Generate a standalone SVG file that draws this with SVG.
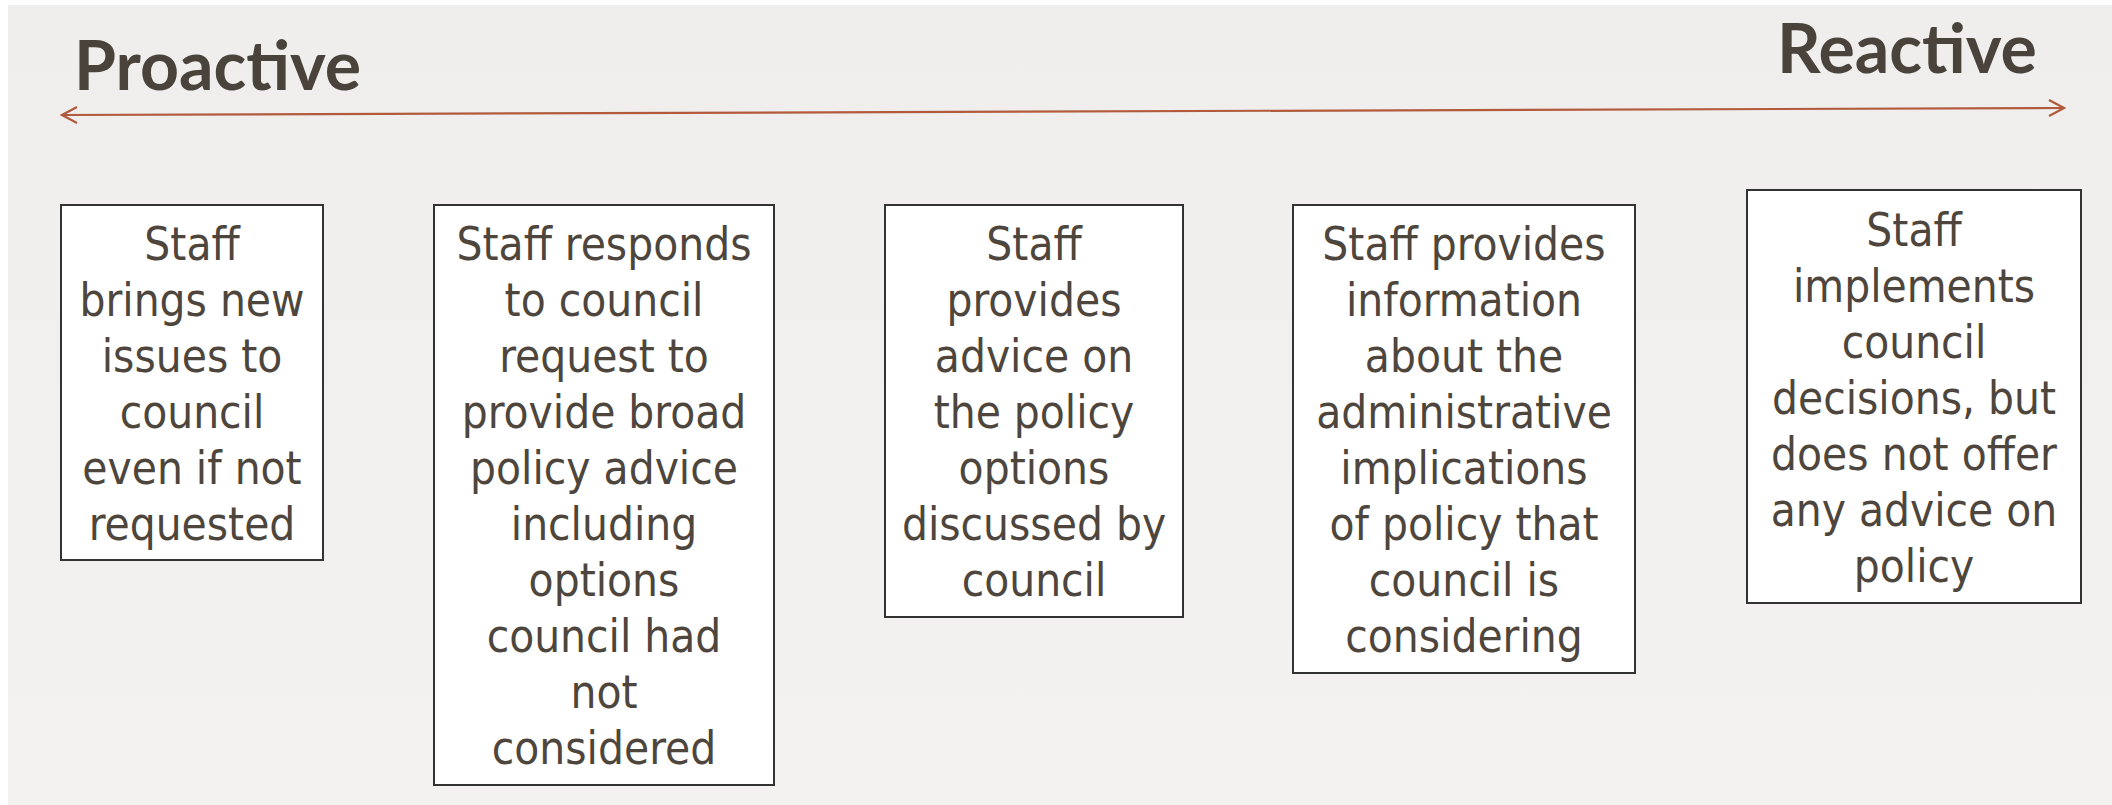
<svg xmlns="http://www.w3.org/2000/svg" width="2112" height="805" viewBox="0 0 2112 805">
  <defs>
    <style>
      .title { font-family: "Lato", "Open Sans", sans-serif; font-weight: 700; font-size: 68px; fill: #4a433b; }
      .box rect { fill: #ffffff; stroke: #333333; stroke-width: 2; }
      .box text { font-family: "DejaVu Sans Condensed", "DejaVu Sans", sans-serif; font-stretch: condensed; font-size: 45.5px; fill: #4e463d; text-anchor: middle; }
      .axis { stroke: #b25a3c; stroke-width: 2.2; fill: none; }
    </style>
    <marker id="openArrow" viewBox="0 0 20 20" refX="18" refY="10" markerWidth="20" markerHeight="20" markerUnits="userSpaceOnUse" orient="auto-start-reverse">
      <path d="M3 2 L18 10 L3 18" fill="none" stroke="#b25a3c" stroke-width="2.2"/>
    </marker>
    <linearGradient id="bg" x1="0" y1="0" x2="0" y2="1">
      <stop offset="0" stop-color="#efeeec"/>
      <stop offset="1" stop-color="#f3f2f0"/>
    </linearGradient>
  </defs>

  <rect x="0" y="0" width="2112" height="805" fill="#ffffff"/>
  <rect x="8" y="5" width="2104" height="800" fill="url(#bg)"/>

  <g id="titles">
    <text class="title" x="74" y="90">Proactive</text>
    <text class="title" x="1777" y="73">Reactive</text>
  </g>

  <g id="connectors">
    <line class="axis" x1="62" y1="115" x2="2064" y2="108" marker-start="url(#openArrow)" marker-end="url(#openArrow)"/>
  </g>

  <g id="node1" class="box">
    <rect x="61" y="205" width="262" height="355"/>
    <text x="192" y="260">Staff</text>
    <text x="192" y="316">brings new</text>
    <text x="192" y="372">issues to</text>
    <text x="192" y="428">council</text>
    <text x="192" y="484">even if not</text>
    <text x="192" y="540">requested</text>
  </g>

  <g id="node2" class="box">
    <rect x="434" y="205" width="340" height="580"/>
    <text x="604" y="260">Staff responds</text>
    <text x="604" y="316">to council</text>
    <text x="604" y="372">request to</text>
    <text x="604" y="428">provide broad</text>
    <text x="604" y="484">policy advice</text>
    <text x="604" y="540">including</text>
    <text x="604" y="596">options</text>
    <text x="604" y="652">council had</text>
    <text x="604" y="708">not</text>
    <text x="604" y="764">considered</text>
  </g>

  <g id="node3" class="box">
    <rect x="885" y="205" width="298" height="412"/>
    <text x="1034" y="260">Staff</text>
    <text x="1034" y="316">provides</text>
    <text x="1034" y="372">advice on</text>
    <text x="1034" y="428">the policy</text>
    <text x="1034" y="484">options</text>
    <text x="1034" y="540">discussed by</text>
    <text x="1034" y="596">council</text>
  </g>

  <g id="node4" class="box">
    <rect x="1293" y="205" width="342" height="468"/>
    <text x="1464" y="260">Staff provides</text>
    <text x="1464" y="316">information</text>
    <text x="1464" y="372">about the</text>
    <text x="1464" y="428">administrative</text>
    <text x="1464" y="484">implications</text>
    <text x="1464" y="540">of policy that</text>
    <text x="1464" y="596">council is</text>
    <text x="1464" y="652">considering</text>
  </g>

  <g id="node5" class="box">
    <rect x="1747" y="190" width="334" height="413"/>
    <text x="1914" y="246">Staff</text>
    <text x="1914" y="302">implements</text>
    <text x="1914" y="358">council</text>
    <text x="1914" y="414">decisions, but</text>
    <text x="1914" y="470">does not offer</text>
    <text x="1914" y="526">any advice on</text>
    <text x="1914" y="582">policy</text>
  </g>
</svg>
